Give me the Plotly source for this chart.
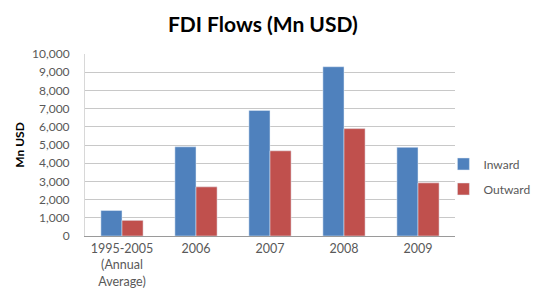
import plotly.graph_objects as go

categories = ["1995-2005<br>(Annual<br>Average)", "2006", "2007", "2008", "2009"]
inward = [1400, 4900, 6900, 9300, 4870]
outward = [860, 2700, 4680, 5900, 2920]
y_ticks = [0, 1000, 2000, 3000, 4000, 5000, 6000, 7000, 8000, 9000, 10000]
y_tick_labels = ["0", "1,000", "2,000", "3,000", "4,000", "5,000", "6,000", "7,000", "8,000", "9,000", "10,000"]

FONT = "Lato, Liberation Sans, sans-serif"

# The page body has an 8px margin, so the figure is sized to fit the window.
fig = go.Figure()
fig.add_trace(go.Bar(x=categories, y=inward, name="Inward", marker_color="#4F81BD",
                     legendgroup="a"))
fig.add_trace(go.Bar(x=categories, y=outward, name="Outward", marker_color="#C0504D",
                     legendgroup="b"))

fig.update_layout(
    width=531, height=288,
    margin=dict(l=77, r=84, t=46, b=60, autoexpand=False),
    paper_bgcolor="white", plot_bgcolor="white",
    barmode="group", bargap=0.43, bargroupgap=0,
    font=dict(family=FONT, size=12, color="#595959"),
    title=dict(text="<b>FDI Flows (Mn USD)</b>", x=0.480, xanchor="center",
               y=0.941, yanchor="middle", automargin=False,
               font=dict(family=FONT, size=21, color="#000000")),
    legend=dict(xref="container", yref="container", x=0.82, xanchor="left",
                y=0.415, yanchor="middle",
                font=dict(family=FONT, size=12, color="#595959"),
                tracegroupgap=6, traceorder="grouped",
                bgcolor="rgba(0,0,0,0)"),
    showlegend=True,
)
fig.update_xaxes(showline=True, linecolor="#9a9a9a", linewidth=1, automargin=False,
                 ticks="", tickfont=dict(size=12.5, color="#595959"),
                 ticklabelstandoff=1, showgrid=False)
fig.update_yaxes(range=[0, 10000], tickvals=y_ticks, ticktext=y_tick_labels,
                 automargin=False,
                 showgrid=True, gridcolor="#c8c8c8", gridwidth=1,
                 showline=True, linecolor="#d8d8d8", zeroline=False,
                 ticks="", ticklabelstandoff=12,
                 tickfont=dict(size=12, color="#595959"),
                 title=dict(text="<b>Mn USD</b>", standoff=4,
                            font=dict(family=FONT, size=12, color="#000000")))

fig.write_html("out.html")
